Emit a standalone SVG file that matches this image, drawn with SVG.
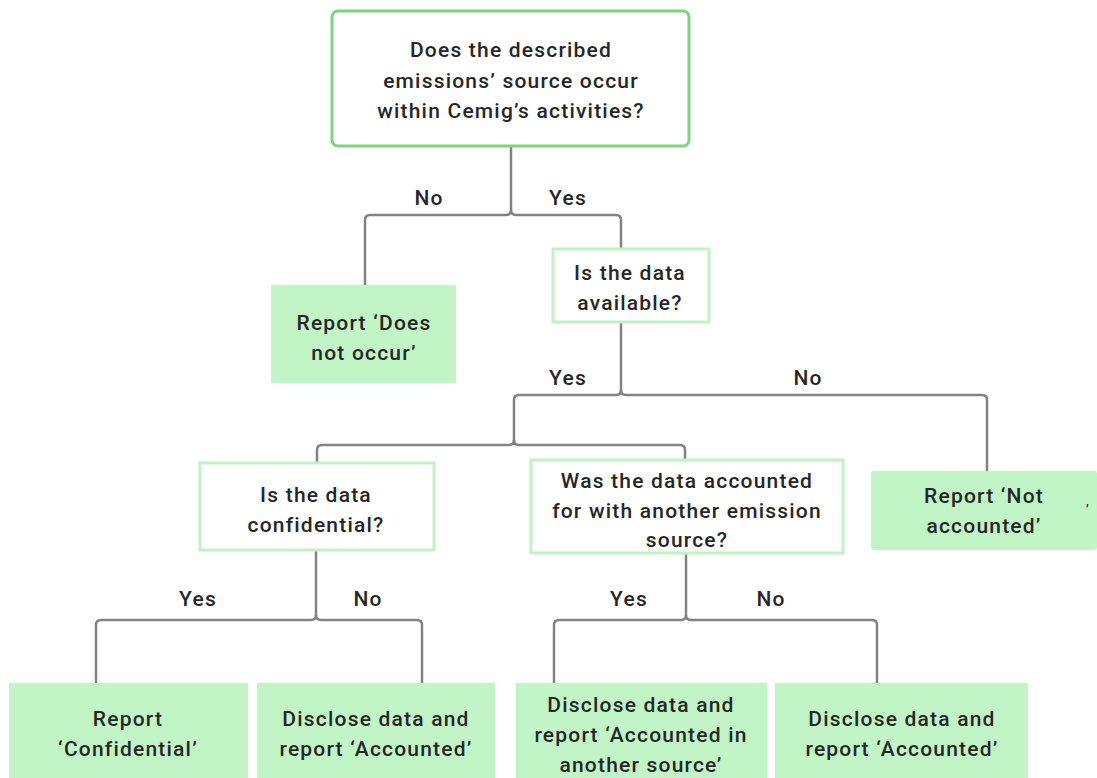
<svg xmlns="http://www.w3.org/2000/svg" width="1097" height="778" viewBox="0 0 1097 778">
<style>
text{font-family:"Roboto","Liberation Sans",sans-serif;font-size:21px;font-weight:500;fill:#262626;text-anchor:middle;letter-spacing:1.2px}
.q{fill:#fff;stroke:#c2f2c4;stroke-width:3}
.q0{fill:#fff;stroke:#7fd27f;stroke-width:3}
.r{fill:#c2f5c6;stroke:none}
.c{fill:none;stroke:#828282;stroke-width:2.5;stroke-linejoin:round}
</style>
<rect width="1097" height="778" fill="#fff"/>
<g id="connectors">
<path class="c" d="M511,146 V210 Q511,215 506,215 H370 Q365,215 365,220 V285"/>
<path class="c" d="M511,210 Q511,215 516,215 H616 Q621,215 621,220 V248"/>
<path class="c" d="M621,322 V390 Q621,395 616,395 H519 Q514,395 514,400 V445"/>
<path class="c" d="M621,390 Q621,395 626,395 H982 Q987,395 987,400 V471"/>
<path class="c" d="M514,440 Q514,445 509,445 H322 Q317,445 317,450 V463"/>
<path class="c" d="M514,440 Q514,445 519,445 H680 Q685,445 685,450 V460"/>
<path class="c" d="M316,550 V615 Q316,620 311,620 H101 Q96,620 96,625 V683"/>
<path class="c" d="M316,615 Q316,620 321,620 H417 Q422,620 422,625 V683"/>
<path class="c" d="M686,553 V615 Q686,620 681,620 H559 Q554,620 554,625 V683"/>
<path class="c" d="M686,615 Q686,620 691,620 H872 Q877,620 877,625 V683"/>
<text x="429" y="205">No</text>
<text x="568" y="205">Yes</text>
<text x="568" y="385">Yes</text>
<text x="808" y="385">No</text>
<text x="198" y="606">Yes</text>
<text x="368" y="606">No</text>
<text x="629" y="606">Yes</text>
<text x="771" y="606">No</text>
</g>
<g id="n-occur">
<rect class="q0" x="332" y="11" width="357" height="135" rx="6"/>
<text x="511" y="57">Does the described</text>
<text x="511" y="88">emissions’ source occur</text>
<text x="511" y="118">within Cemig’s activities?</text>
</g>
<g id="n-available">
<rect class="q" x="553" y="249" width="156" height="73"/>
<text x="630" y="280">Is the data</text>
<text x="630" y="310">available?</text>
</g>
<g id="n-doesnot">
<rect class="r" x="271" y="285" width="185" height="98"/>
<text x="364" y="330">Report ‘Does</text>
<text x="364" y="360">not occur’</text>
</g>
<g id="n-confidential">
<rect class="q" x="200" y="463" width="234" height="87"/>
<text x="316" y="502">Is the data</text>
<text x="316" y="532">confidential?</text>
</g>
<g id="n-another">
<rect class="q" x="531" y="460" width="312" height="93"/>
<text x="687" y="488">Was the data accounted</text>
<text x="687" y="518">for with another emission</text>
<text x="687" y="547">source?</text>
</g>
<g id="n-notaccounted">
<rect class="r" x="871" y="471" width="226" height="79" rx="3"/>
<text x="984" y="503">Report ‘Not</text>
<text x="984" y="533">accounted’</text>
<text x="1088" y="505" style="font-size:12px">,</text>
</g>
<g id="n-conf-report">
<rect class="r" x="9" y="683" width="239" height="95"/>
<text x="128" y="726">Report</text>
<text x="128" y="756">‘Confidential’</text>
</g>
<g id="n-accounted1">
<rect class="r" x="257" y="683" width="238" height="95"/>
<text x="376" y="726">Disclose data and</text>
<text x="376" y="756">report ‘Accounted’</text>
</g>
<g id="n-accounted-other">
<rect class="r" x="516" y="683" width="251" height="95"/>
<text x="641" y="712">Disclose data and</text>
<text x="641" y="742">report ‘Accounted in</text>
<text x="641" y="772">another source’</text>
</g>
<g id="n-accounted2">
<rect class="r" x="775" y="683" width="253" height="95"/>
<text x="902" y="726">Disclose data and</text>
<text x="902" y="756">report ‘Accounted’</text>
</g>
</svg>
